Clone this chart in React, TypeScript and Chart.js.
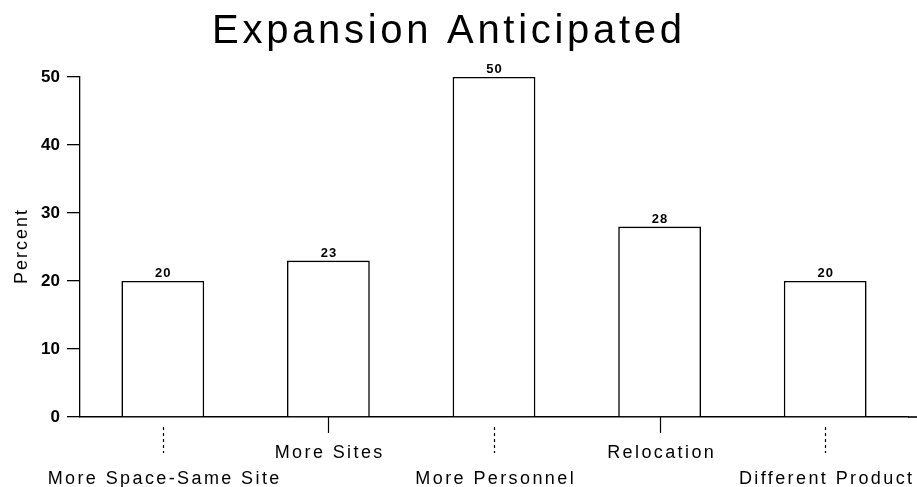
import React, { useEffect, useRef } from "react";
import { Chart, registerables } from "chart.js";

Chart.register(...registerables);

const titleText = "Expansion Anticipated";
const yAxisTitle = "Percent";
const categories = [
  "More Space-Same Site",
  "More Sites",
  "More Personnel",
  "Relocation",
  "Different Product",
];
const percentValues = [20, 23, 50, 28, 20];
const yTicks = [0, 10, 20, 30, 40, 50];

const FONT = "'Liberation Sans', Arial, Helvetica, sans-serif";

function spacedText(
  ctx: any,
  text: string,
  x: number,
  y: number,
  font: string,
  spacing: number,
  align: CanvasTextAlign = "center"
) {
  ctx.save();
  ctx.font = font;
  ctx.fillStyle = "#000";
  ctx.textAlign = align;
  ctx.textBaseline = "alphabetic";
  if ("letterSpacing" in ctx) ctx.letterSpacing = `${spacing}px`;
  // trailing spacing is added after the last glyph, shift back to keep it centred
  const shift = align === "center" ? spacing / 2 : 0;
  ctx.fillText(text, x + shift, y);
  ctx.restore();
}

// Chart title, rotated y-axis title and value labels above the bars
const annotations = {
  id: "annotations",
  afterDatasetsDraw(chart: any) {
    const ctx = chart.ctx;
    const area = chart.chartArea;
    const meta = chart.getDatasetMeta(0);
    meta.data.forEach((bar: any, i: number) => {
      spacedText(ctx, String(percentValues[i]), bar.x, bar.y - 4, `bold 13px ${FONT}`, 1);
    });
    spacedText(ctx, titleText, 447, 43, `40px ${FONT}`, 3.7);

    ctx.save();
    ctx.translate(27, (area.top + area.bottom) / 2);
    ctx.rotate(-Math.PI / 2);
    spacedText(ctx, yAxisTitle, 0, 0, `18px ${FONT}`, 2);
    ctx.restore();

    // x axis line carried on to the right edge
    ctx.save();
    ctx.strokeStyle = "#000";
    ctx.lineWidth = 1.6;
    ctx.beginPath();
    ctx.moveTo(area.right, area.bottom);
    ctx.lineTo(chart.width, area.bottom);
    ctx.stroke();
    ctx.restore();
  },
};

// Staggered category labels with their tick marks under the x axis
const categoryLabels = {
  id: "categoryLabels",
  afterDraw(chart: any) {
    const ctx = chart.ctx;
    const xScale = chart.scales.x;
    const bottom = chart.chartArea.bottom;
    categories.forEach((label, i) => {
      const x = Math.round(xScale.getPixelForTick(i)) + 0.5;
      const low = i % 2 === 0;
      ctx.save();
      ctx.strokeStyle = "#000";
      ctx.lineWidth = 1.2;
      ctx.beginPath();
      if (low) {
        ctx.setLineDash([3, 3]);
        ctx.moveTo(x, bottom + 10);
        ctx.lineTo(x, bottom + 36);
      } else {
        ctx.moveTo(x, bottom);
        ctx.lineTo(x, bottom + 16);
      }
      ctx.stroke();
      ctx.restore();
      spacedText(ctx, label, x, bottom + (low ? 67 : 41), `18px ${FONT}`, 2.4);
    });
  },
};

export default function App() {
  const canvasRef = useRef<HTMLCanvasElement | null>(null);

  useEffect(() => {
    if (!canvasRef.current) return;
    const chart = new Chart(canvasRef.current, {
      type: "bar",
      data: {
        labels: categories,
        datasets: [
          {
            data: percentValues,
            backgroundColor: "#ffffff",
            borderColor: "#000000",
            borderWidth: 1.6,
            borderSkipped: "bottom",
            barPercentage: 0.5,
            categoryPercentage: 1.0,
          },
        ],
      },
      options: {
        responsive: true,
        maintainAspectRatio: false,
        animation: false,
        layout: { padding: { left: 0, right: 9, top: 77, bottom: 0 } },
        plugins: {
          legend: { display: false },
          tooltip: { enabled: false },
          title: { display: false },
        },
        scales: {
          x: {
            type: "category",
            offset: true,
            grid: { display: false, drawTicks: false },
            border: { display: true, color: "#000", width: 1.6 },
            ticks: { display: false },
            afterFit: (scale: any) => {
              scale.height = 70;
            },
          },
          y: {
            min: 0,
            max: 50,
            afterBuildTicks: (scale: any) => {
              scale.ticks = yTicks.map((v) => ({ value: v }));
            },
            afterFit: (scale: any) => {
              scale.width = 80;
            },
            grid: {
              display: true,
              drawOnChartArea: false,
              drawTicks: true,
              tickLength: 13,
              color: "#000",
              lineWidth: 1.3,
            },
            border: { display: true, color: "#000", width: 1.3, dash: [2, 3] },
            ticks: {
              color: "#000",
              font: { family: FONT, size: 17, weight: "bold" },
              padding: 7,
            },
          },
        },
      },
      plugins: [annotations, categoryLabels],
    });
    return () => chart.destroy();
  }, []);

  return (
    <div
      style={{
        position: "fixed",
        left: 0,
        top: 0,
        width: 917,
        height: 487,
        background: "#fff",
      }}
    >
      <canvas ref={canvasRef} />
    </div>
  );
}
